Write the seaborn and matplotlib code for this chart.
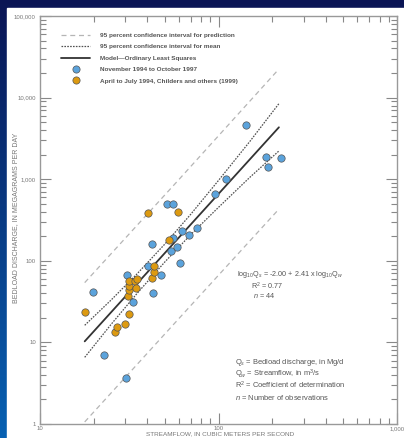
import numpy as np
import matplotlib
matplotlib.use('Agg')
import matplotlib.pyplot as plt
import seaborn as sns
from matplotlib import font_manager
from matplotlib.lines import Line2D
from matplotlib.patches import Rectangle
from matplotlib.ticker import LogLocator, FuncFormatter, NullFormatter

# streamflow (m3/s) and bedload discharge (Mg/d)
nov_qw = [19.9, 22.9, 30.2, 30.9, 33.3, 40.2, 42.2, 42.9, 47.6, 51.3, 55.4, 54.4,
          55.7, 58.6, 60.5, 62.1, 68.7, 76.2, 95.8, 110.7, 143.5, 183.7, 190.5, 224.5]
nov_qs = [41.1, 6.95, 3.66, 67, 31.3, 85.7, 159, 40, 67.6, 494, 490, 132.6,
          190, 149, 92.7, 233, 207, 250, 653, 1005, 4575, 1888, 1419, 1835]
apr_qw = [17.9, 26.3, 26.9, 30.1, 31.4, 31.1, 31.7, 31.4, 31.4, 33.9, 34.3, 35.0,
          40.4, 42.5, 43.4, 43.6, 53.0, 59.4]
apr_qs = [23.3, 13.3, 15.4, 16.8, 22.3, 36.7, 43.9, 49.5, 56.5, 56.5, 46.4, 59.3,
          388, 60.7, 72.5, 87.1, 180, 396]

# model line and interval curves
model_qw = [17.8, 218]
model_qs = [10.3, 4325]
mean_ci_qw = [17.8, 25, 35, 50, 70, 100, 150, 218]
mean_ci_upper = [16.2, 33.0, 69.3, 160, 373, 966, 2911, 8433]
mean_ci_lower = [6.56, 16.6, 39.9, 96.6, 210, 452, 1057, 2218]
pred_qw = [17.8, 60, 218]
pred_upper = [54, 990, 22400]
pred_lower = [1.06, 19.6, 430]

legend_labels = ['95 percent confidence interval for prediction',
                 '95 percent confidence interval for mean',
                 'Model\u2014Ordinary Least Squares',
                 'November 1994 to October 1997',
                 'April to July 1994, Childers and others (1999)']
definitions = ['Q$_s$ = Bedload discharge, in Mg/d',
               'Q$_w$ = Streamflow, in m$^3$/s',
               'R$^2$ = Coefficient of determination',
               '$n$ = Number of observations']

BLUE = '#5ba3dc'
ORANGE = '#dd9a10'
W, H = 404, 438

sns.set_style('ticks')
available = {f.name for f in font_manager.fontManager.ttflist}
NARROW = 'Liberation Sans Narrow' if 'Liberation Sans Narrow' in available else 'Liberation Sans'
plt.rcParams['font.family'] = [NARROW, 'DejaVu Sans']
plt.rcParams['mathtext.fontset'] = 'custom'
plt.rcParams['mathtext.rm'] = NARROW
plt.rcParams['mathtext.it'] = NARROW + ':italic'

fig = plt.figure(figsize=(W / 100, H / 100), dpi=100)
fig.patch.set_facecolor('white')

# slide background: navy band on top, blue gradient on the left
bg = fig.add_axes([0, 0, 1, 1], zorder=-10)
top = np.array([0.04, 0.08, 0.33])
bot = np.array([0.03, 0.38, 0.70])
t = np.linspace(0, 1, 200)[:, None]
grad = (top * (1 - t) + bot * t)[:, None, :]
bg.imshow(grad, aspect='auto', extent=[0, 1, 0, 1])
bg.add_patch(Rectangle((7 / W, 0), 1, (H - 8) / H, color='white', zorder=2))
bg.set_xlim(0, 1)
bg.set_ylim(0, 1)
bg.axis('off')

ax = fig.add_axes([40 / W, 14 / H, 357 / W, 408 / H])
ax.set_facecolor('white')

sns.lineplot(x=pred_qw, y=pred_upper, ax=ax, color='#b5b5b5', lw=0.9, linestyle=(0, (4, 3)))
sns.lineplot(x=pred_qw, y=pred_lower, ax=ax, color='#b5b5b5', lw=0.9, linestyle=(0, (4, 3)))
sns.lineplot(x=mean_ci_qw, y=mean_ci_upper, ax=ax, color='#505050', lw=0.9, linestyle=(0, (1.3, 1)))
sns.lineplot(x=mean_ci_qw, y=mean_ci_lower, ax=ax, color='#505050', lw=0.9, linestyle=(0, (1.3, 1)))
sns.lineplot(x=model_qw, y=model_qs, ax=ax, color='#333333', lw=1.3)
sns.scatterplot(x=nov_qw, y=nov_qs, ax=ax, color=BLUE, s=28, edgecolor='#555555', linewidth=0.5, zorder=5)
sns.scatterplot(x=apr_qw, y=apr_qs, ax=ax, color=ORANGE, s=28, edgecolor='#555555', linewidth=0.5, zorder=5)

ax.set_xscale('log')
ax.set_yscale('log')
ax.set_xlim(10, 1000)
ax.set_ylim(1, 100000)

fmt = FuncFormatter(lambda v, p: f'{v:,.0f}')
for axis in (ax.xaxis, ax.yaxis):
    axis.set_major_locator(LogLocator(base=10))
    axis.set_minor_locator(LogLocator(base=10, subs=np.arange(2, 10)))
    axis.set_major_formatter(fmt)
    axis.set_minor_formatter(NullFormatter())
ax.tick_params(which='both', direction='in', top=True, right=True, colors='#888888',
               labelcolor='#777777', labelsize=4.3, width=0.8)
ax.tick_params(which='major', length=8, pad=3)
ax.tick_params(which='minor', length=4.5)
ax.tick_params(axis='x', which='major', pad=1.5)
for sp in ax.spines.values():
    sp.set_color('#999999')
    sp.set_linewidth(1.0)

ax.set_ylabel('BEDLOAD DISCHARGE, IN MEGAGRAMS PER DAY', fontsize=5, color='#777777')
ax.yaxis.set_label_coords((19 - 40) / 357, (424 - 218) / 408)
ax.set_xlabel('STREAMFLOW, IN CUBIC METERS PER SECOND', fontsize=4.6, color='#777777')
ax.xaxis.set_label_coords((220 - 40) / 357, (424 - 431.5) / 408)

handles = [Line2D([], [], color='#b5b5b5', lw=0.9, linestyle=(0, (4, 3))),
           Line2D([], [], color='#505050', lw=0.9, linestyle=(0, (1.3, 1))),
           Line2D([], [], color='#333333', lw=1.3),
           Line2D([], [], color=BLUE, marker='o', markersize=5.2, lw=0,
                  markeredgecolor='#555555', markeredgewidth=0.5),
           Line2D([], [], color=ORANGE, marker='o', markersize=5.2, lw=0,
                  markeredgecolor='#555555', markeredgewidth=0.5)]
leg = ax.legend(handles, legend_labels, loc='upper left', frameon=False,
                bbox_to_anchor=((61 - 40) / 357, 1 - (32.5 - 16) / 408),
                prop={'family': NARROW, 'weight': 'bold', 'size': 4.6},
                handlelength=4.6, handletextpad=1.5, labelspacing=0.93, borderpad=0,
                borderaxespad=0)
for txt in leg.get_texts():
    txt.set_color('#555555')

ax.text((237 - 40) / 357, (424 - 274) / 408,
        'log$_{10}$Q$_s$ = -2.00 + 2.41 x log$_{10}$Q$_w$',
        transform=ax.transAxes, fontsize=5.2, color='#555555', va='center')
ax.text((251 - 40) / 357, (424 - 286) / 408, 'R$^2$ = 0.77',
        transform=ax.transAxes, fontsize=5.2, color='#555555', va='center')
ax.text((253 - 40) / 357, (424 - 296) / 408, '$n$ = 44',
        transform=ax.transAxes, fontsize=5.2, color='#555555', va='center')

for i, line in enumerate(definitions):
    ax.text((235 - 40) / 357, (424 - 362 - 11.9 * i) / 408, line,
            transform=ax.transAxes, fontsize=5.4, color='#555555', va='center')

fig.savefig('out.png', dpi=100, facecolor=fig.get_facecolor())
